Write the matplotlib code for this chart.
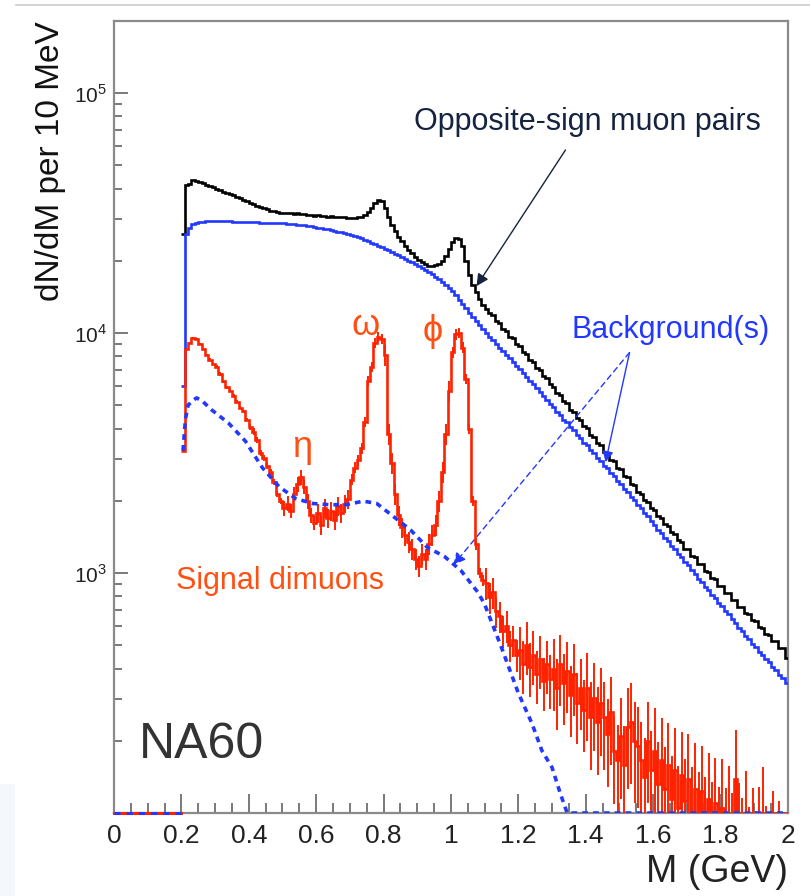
"""
NA60 dimuon mass spectrum (In-In): opposite-sign pairs, background, signal.
"""

import numpy as np
import matplotlib.pyplot as plt
from matplotlib.lines import Line2D
from matplotlib.patches import Rectangle


# 10 MeV bins, left edges from 0.20 GeV; values are log10(counts per bin)
bin_lo = 0.20
bin_w = 0.01

# opposite-sign muon pairs, bins 0.20 .. 1.99
total_log = [
    4.415, 4.618, 4.620, 4.637, 4.634, 4.628, 4.626, 4.619, 4.612, 4.607,
    4.601, 4.597, 4.590, 4.586, 4.579, 4.574, 4.567, 4.562, 4.556, 4.549,
    4.543, 4.538, 4.531, 4.527, 4.521, 4.516, 4.511, 4.507, 4.503, 4.500,
    4.502, 4.499, 4.501, 4.497, 4.499, 4.495, 4.497, 4.493, 4.494, 4.490,
    4.491, 4.488, 4.489, 4.486, 4.487, 4.484, 4.485, 4.482, 4.483, 4.480,
    4.481, 4.479, 4.482, 4.486, 4.492, 4.505, 4.522, 4.541, 4.556, 4.549,
    4.522, 4.482, 4.452, 4.425, 4.402, 4.382, 4.363, 4.347, 4.332, 4.318,
    4.306, 4.296, 4.287, 4.281, 4.280, 4.283, 4.290, 4.302, 4.322, 4.352,
    4.381, 4.397, 4.392, 4.362, 4.302, 4.243, 4.201, 4.170, 4.143, 4.118,
    4.102, 4.082, 4.075, 4.052, 4.043, 4.019, 4.011, 3.986, 3.979, 3.955,
    3.946, 3.921, 3.914, 3.888, 3.880, 3.853, 3.848, 3.820, 3.812, 3.786,
    3.776, 3.750, 3.743, 3.716, 3.708, 3.681, 3.673, 3.647, 3.638, 3.611,
    3.603, 3.577, 3.568, 3.541, 3.535, 3.506, 3.502, 3.472, 3.468, 3.437,
    3.433, 3.404, 3.399, 3.371, 3.366, 3.338, 3.331, 3.304, 3.298, 3.270,
    3.265, 3.236, 3.231, 3.203, 3.197, 3.170, 3.164, 3.136, 3.131, 3.102,
    3.099, 3.070, 3.067, 3.039, 3.036, 3.008, 3.005, 2.978, 2.975, 2.947,
    2.946, 2.918, 2.915, 2.888, 2.887, 2.860, 2.857, 2.832, 2.828, 2.804,
    2.801, 2.774, 2.773, 2.746, 2.743, 2.718, 2.715, 2.689, 2.687, 2.645,
]

# combinatorial background, bins 0.20 .. 1.99
bkg_log = [
    3.780, 4.415, 4.440, 4.455, 4.460, 4.463, 4.465, 4.466, 4.467, 4.467,
    4.467, 4.467, 4.466, 4.466, 4.466, 4.465, 4.465, 4.464, 4.464, 4.463,
    4.463, 4.462, 4.462, 4.461, 4.461, 4.460, 4.460, 4.459, 4.458, 4.458,
    4.457, 4.456, 4.455, 4.454, 4.452, 4.451, 4.449, 4.447, 4.445, 4.442,
    4.440, 4.437, 4.435, 4.432, 4.429, 4.426, 4.423, 4.420, 4.417, 4.414,
    4.410, 4.405, 4.400, 4.395, 4.389, 4.383, 4.377, 4.371, 4.365, 4.358,
    4.352, 4.345, 4.338, 4.331, 4.324, 4.317, 4.310, 4.302, 4.295, 4.288,
    4.280, 4.272, 4.263, 4.254, 4.245, 4.235, 4.225, 4.214, 4.202, 4.190,
    4.175, 4.158, 4.140, 4.122, 4.104, 4.086, 4.068, 4.050, 4.033, 4.016,
    4.000, 3.985, 3.970, 3.955, 3.940, 3.925, 3.910, 3.895, 3.880, 3.865,
    3.850, 3.834, 3.818, 3.802, 3.786, 3.770, 3.754, 3.738, 3.722, 3.706,
    3.692, 3.672, 3.660, 3.640, 3.628, 3.608, 3.596, 3.576, 3.564, 3.544,
    3.532, 3.512, 3.500, 3.480, 3.468, 3.448, 3.436, 3.416, 3.404, 3.384,
    3.372, 3.351, 3.338, 3.317, 3.304, 3.283, 3.270, 3.249, 3.236, 3.215,
    3.202, 3.181, 3.168, 3.147, 3.134, 3.113, 3.100, 3.079, 3.066, 3.045,
    3.032, 3.011, 2.998, 2.977, 2.964, 2.943, 2.930, 2.909, 2.896, 2.875,
    2.862, 2.841, 2.828, 2.807, 2.794, 2.773, 2.760, 2.739, 2.726, 2.705,
    2.692, 2.672, 2.660, 2.640, 2.628, 2.608, 2.596, 2.576, 2.564, 2.540,
]

# signal dimuons, bins 0.20 .. 1.99
signal_log = [
    3.51, 3.935, 3.96, 3.98, 3.975, 3.955, 3.935, 3.91, 3.89, 3.87,
    3.86, 3.83, 3.80, 3.775, 3.76, 3.74, 3.715, 3.69, 3.675, 3.64,
    3.61, 3.59, 3.555, 3.50, 3.48, 3.445, 3.42, 3.38, 3.33, 3.30,
    3.27, 3.29, 3.26, 3.33, 3.37, 3.40, 3.36, 3.30, 3.24, 3.21,
    3.25, 3.20, 3.27, 3.23, 3.26, 3.22, 3.28, 3.25, 3.29, 3.31,
    3.39, 3.44, 3.47, 3.52, 3.63, 3.80, 3.86, 3.96, 3.985, 3.975,
    3.91, 3.58, 3.46, 3.33, 3.24, 3.19, 3.16, 3.13, 3.10, 3.06,
    3.03, 3.08, 3.06, 3.12, 3.16, 3.20, 3.30, 3.42, 3.58, 3.76,
    3.92, 3.995, 4.00, 3.94, 3.81, 3.60, 3.30, 3.12, 3.00, 2.97,
    2.96, 2.90, 2.92, 2.84, 2.82, 2.76, 2.78, 2.70, 2.72, 2.66,
    2.68, 2.62, 2.70, 2.61, 2.66, 2.58, 2.64, 2.55, 2.62, 2.56,
    2.60, 2.52, 2.62, 2.54, 2.59, 2.49, 2.58, 2.46, 2.52, 2.43,
    2.52, 2.40, 2.48, 2.38, 2.46, 2.40, 2.33, 2.42, 2.26, 2.22,
    2.32, 2.20, 2.36, 2.38, 2.30, 2.28, 2.22, 2.15, 2.30, 2.18,
    2.26, 2.12, 2.22, 2.10, 2.20, 2.06, 2.18, 2.02, 2.16, 2.05,
    2.14, 2.00, 2.10, 1.98, 2.09, 1.96, 2.06, 1.94, 2.04, 1.92,
    2.02, 1.90, 1.99, 1.88, 2.14, 1.92, 1.86, 1.97, 1.82, 1.90,
    1.78, 1.88, 1.96, 1.80, 1.76, 1.86, 1.72, 1.82, 1.70, 1.68,
]

# relative error of the signal, one value per 100 MeV from 0.2 GeV
signal_relerr = [0.01, 0.015, 0.03, 0.07, 0.09, 0.05, 0.10, 0.10, 0.05,
                 0.15, 0.25, 0.33, 0.40, 0.45, 0.50, 0.55, 0.60, 0.70]

# background under the signal (dashed), mass / log10 counts
cocktail_m = [0.205, 0.212, 0.22, 0.235, 0.245, 0.26, 0.29, 0.34, 0.39,
              0.44, 0.49, 0.54, 0.59, 0.64, 0.69, 0.74, 0.78, 0.83, 0.88,
              0.93, 0.98, 1.03, 1.08, 1.10, 1.15, 1.20, 1.24, 1.27, 1.30,
              1.325, 1.345, 2.0]
cocktail_log = [3.51, 3.64, 3.70, 3.72, 3.73, 3.72, 3.68, 3.625, 3.55,
                3.44, 3.36, 3.31, 3.29, 3.285, 3.285, 3.30, 3.29, 3.235, 3.18,
                3.107, 3.07, 3.01, 2.92, 2.87, 2.69, 2.50, 2.375, 2.26, 2.19,
                2.08, 2.0, 2.0]

YMIN, YMAX = 100, 2e5
BLACK = "#000000"
BLUE = "#2238ff"
RED = "#ff2200"
ORANGE = "#ff5014"
NAVY = "#14233f"


def main():
    plt.rcParams['font.family'] = ['Liberation Sans', 'DejaVu Sans']
    plt.rcParams['mathtext.fontset'] = 'custom'
    plt.rcParams['mathtext.rm'] = 'Liberation Sans'

    fig = plt.figure(figsize=(8.1, 8.96), dpi=100)
    ax = fig.add_axes([0.1407, 0.0926, 0.832, 0.884])

    n_bins = len(signal_log)
    edges = bin_lo + bin_w * np.arange(n_bins + 1)
    centers = 0.5 * (edges[:-1] + edges[1:])

    total = 10 ** np.array(total_log)
    bkg = 10 ** np.array(bkg_log)
    signal = 10 ** np.array(signal_log)
    relerr = np.repeat(signal_relerr, 10)

    ax.stairs(total, edges, baseline=None, color=BLACK, lw=1.9, zorder=3)
    ax.stairs(bkg, edges, baseline=None, color=BLUE, lw=1.9, zorder=4)

    # empty bins below 0.2 GeV sit on the frame
    ax.plot([0, 0.2], [YMIN, YMIN], color=RED, lw=2.2, clip_on=False, zorder=6)
    ax.plot([0, 0.2], [YMIN, YMIN], color=BLUE, lw=2.2, ls=(0, (2, 2)),
            clip_on=False, zorder=7)

    sig_show = np.maximum(signal, YMIN)
    ax.stairs(sig_show, edges, baseline=None, color=RED, lw=1.9, zorder=5)
    lo = np.maximum(signal * (1 - relerr), YMIN)
    hi = signal * (1 + relerr)
    ax.vlines(centers, lo, hi, color=RED, lw=1.4, zorder=5)

    ax.plot(cocktail_m, 10 ** np.array(cocktail_log), color=BLUE, lw=2.6,
            ls=(0, (1.6, 1.4)), zorder=6)

    ax.set_yscale('log')
    ax.set_xlim(0, 2)
    ax.set_ylim(YMIN, YMAX)

    ax.set_xticks(np.arange(0, 2.01, 0.2))
    ax.set_xticklabels(['0', '0.2', '0.4', '0.6', '0.8', '1', '1.2', '1.4',
                        '1.6', '1.8', '2'])
    ax.set_xticks(np.arange(0, 2.01, 0.05), minor=True)
    ax.set_yticks([1e3, 1e4, 1e5])
    ax.set_yticklabels([r'$10^{3}$', r'$10^{4}$', r'$10^{5}$'])
    minors = [m * 10 ** e for e in (2, 3, 4, 5) for m in range(2, 10)]
    ax.set_yticks([v for v in minors if YMIN < v < YMAX], minor=True)
    ax.yaxis.set_minor_formatter(plt.NullFormatter())

    ax.tick_params(axis='x', which='major', direction='in', length=14,
                   width=1.1, color='#555555', labelsize=19, pad=8,
                   labelcolor='#222222')
    ax.tick_params(axis='x', which='minor', direction='in', length=7,
                   width=1.1, color='#555555')
    ax.tick_params(axis='y', which='major', direction='in', length=10,
                   width=1.1, color='#555555', labelsize=15, pad=5,
                   labelcolor='#222222')
    ax.tick_params(axis='y', which='minor', direction='in', length=6,
                   width=1.1, color='#555555')
    for s in ax.spines.values():
        s.set_color('#8a8a8a')
        s.set_linewidth(1.6)

    ax.set_xlabel('M (GeV)', fontsize=27, loc='right', color='#222222')
    ax.xaxis.set_label_coords(1.0, -0.052)
    ax.set_ylabel('dN/dM per 10 MeV', fontsize=24, loc='top', color='#111111')
    ax.yaxis.set_label_coords(-0.071, 1.0)

    # annotations
    ax.text(1.406, 7.6e4, 'Opposite-sign muon pairs', color=NAVY, fontsize=22,
            ha='center', va='center')
    ax.annotate('', xy=(1.076, 1.57e4), xytext=(1.34, 5.8e4),
                arrowprops=dict(arrowstyle='-|>', color=NAVY, lw=1.0,
                                mutation_scale=18, shrinkA=0, shrinkB=0))

    ax.text(1.652, 1.03e4, 'Background(s)', color=BLUE, fontsize=22,
            ha='center', va='center')
    ax.annotate('', xy=(1.459, 2.9e3), xytext=(1.53, 8.3e3),
                arrowprops=dict(arrowstyle='-|>', color=BLUE, lw=1.0,
                                mutation_scale=16, shrinkA=0, shrinkB=0))
    ax.annotate('', xy=(1.007, 1.08e3), xytext=(1.53, 8.3e3),
                arrowprops=dict(arrowstyle='-|>', color=BLUE, lw=1.0,
                                ls=(0, (4, 3)), mutation_scale=18,
                                shrinkA=0, shrinkB=0))

    ax.text(0.746, 1.08e4, 'ω', color=ORANGE, fontsize=26, ha='center',
            va='center')
    ax.text(0.945, 1.02e4, 'ϕ', color=ORANGE, fontsize=26, ha='center',
            va='center')
    ax.text(0.559, 3.35e3, 'η', color=ORANGE, fontsize=26, ha='center',
            va='center')
    ax.text(0.493, 9.3e2, 'Signal dimuons', color=ORANGE, fontsize=22,
            ha='center', va='center')
    ax.text(0.075, 1.92e2, 'NA60', color='#333333', fontsize=36,
            ha='left', va='center')

    # slide decorations around the plot
    fig.add_artist(Line2D([0.02, 1.0], [0.994, 0.994],
                          transform=fig.transFigure, color='#cccccc', lw=1.2))
    fig.add_artist(Rectangle((0, 0), 0.018, 0.125, transform=fig.transFigure,
                             color='#f4f7fc', lw=0, zorder=-1))

    fig.savefig('out.png', dpi=100)


if __name__ == "__main__":
    main()
